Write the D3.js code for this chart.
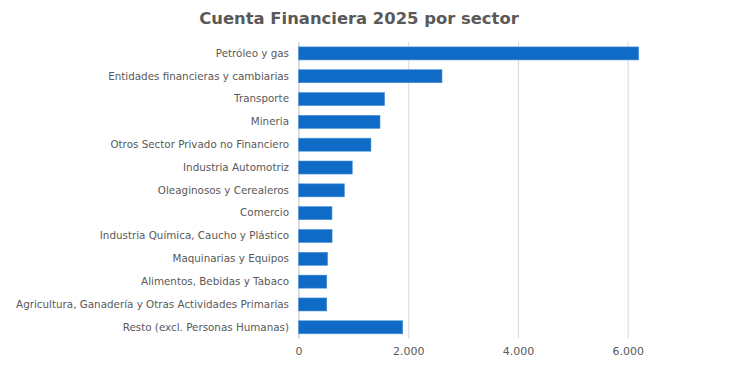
<!DOCTYPE html>
<html><head><meta charset="utf-8">
<script src="https://cdn.jsdelivr.net/npm/d3@7"></script>
<style>body{margin:0;background:#fff;} svg{display:block;}</style>
</head><body>
<svg id="c" width="730" height="371"></svg>
<script>
const categories = ["Petróleo y gas","Entidades financieras y cambiarias","Transporte","Mineria","Otros Sector Privado no Financiero","Industria Automotriz","Oleaginosos y Cerealeros","Comercio","Industria Química, Caucho y Plástico","Maquinarias y Equipos","Alimentos, Bebidas y Tabaco","Agricultura, Ganadería y Otras Actividades Primarias","Resto (excl. Personas Humanas)"];
const values = [6200,2615,1570,1485,1320,980,835,610,612,530,515,515,1900];
const tickValues = [0,2000,4000,6000];
const title = "Cuenta Financiera 2025 por sector";

const svg = d3.select("#c");
const x = d3.scaleLinear().domain([0,6000]).range([298.5,627.7]);
const y = d3.scaleBand().domain(categories).range([42,338.7]).paddingInner(0.43).paddingOuter(0.215);
const fmt = d => d3.format(",")(d).replace(/,/g,".");

svg.append("text").attr("x",359).attr("y",24).attr("text-anchor","middle")
  .attr("font-family","DejaVu Sans, Verdana, sans-serif").attr("font-weight","bold")
  .attr("font-size",16.4).attr("fill","#595959").text(title);

const grid = svg.append("g").attr("transform","translate(0,338.7)")
  .call(d3.axisBottom(x).tickValues(tickValues).tickSize(-296.7).tickFormat(fmt).tickPadding(9));
grid.select(".domain").remove();
grid.selectAll(".tick line").attr("stroke","#d9d9d9").attr("stroke-width",1);
grid.selectAll(".tick").filter(d=>d===0).select("line").attr("stroke","#bfbfbf");
grid.selectAll(".tick text").attr("font-family","DejaVu Sans, Verdana, sans-serif").attr("font-size",11).attr("fill","#595959");

svg.append("g").selectAll("rect").data(values).join("rect")
  .attr("x",x(0)).attr("y",(d,i)=>y(categories[i]))
  .attr("width",d=>x(d)-x(0)).attr("height",y.bandwidth())
  .attr("fill","#0f6bc6").attr("stroke","#4a90d9").attr("stroke-width",0.6);

const ya = svg.append("g").attr("transform","translate(298.5,0)")
  .call(d3.axisLeft(y).tickSize(0).tickPadding(9.5));
ya.select(".domain").remove();
ya.selectAll(".tick text").attr("font-family","DejaVu Sans, Verdana, sans-serif").attr("font-size",10.35).attr("fill","#595959");
</script>
</body></html>
